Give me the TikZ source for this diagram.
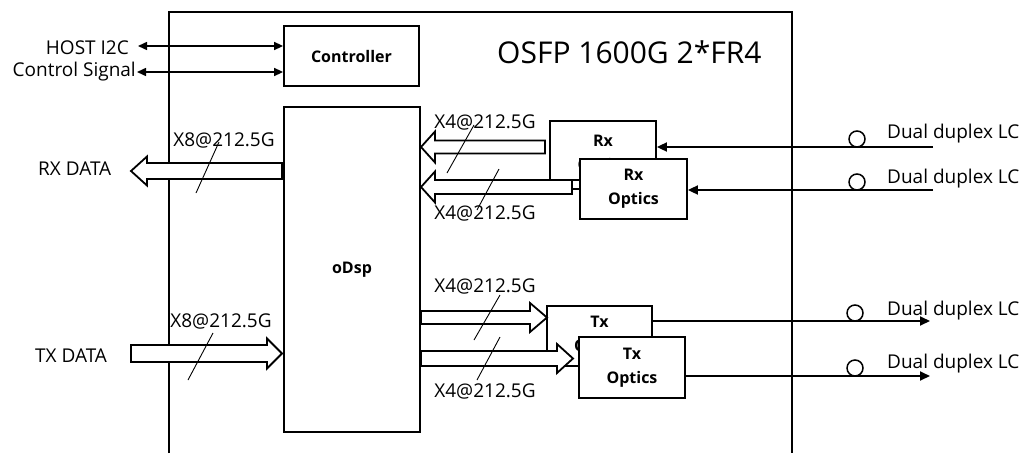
\documentclass[tikz,border=0pt]{standalone}
\usepackage{fontspec}
\setmainfont{Open Sans}
\usetikzlibrary{arrows.meta,calc}
\newcommand\hollowarrow[5]{%
  \draw[harrow] let \p1=(#1), \p2=(#2) in
    (\x1,\y1+#3) -- (\x2-#5,\y1+#3) -- (\x2-#5,\y1+#4) -- (\x2,\y1)
    -- (\x2-#5,\y1-#4) -- (\x2-#5,\y1-#3) -- (\x1,\y1-#3) -- cycle;}
\begin{document}
\begin{tikzpicture}[x=1pt,y=-1pt,
  blk/.style={draw,line width=1.8pt,fill=white,inner sep=0pt,align=center,
    font=\bfseries\fontsize{16}{24}\selectfont},
  lbl/.style={font=\fontsize{19}{22}\selectfont,inner sep=0pt,anchor=base},
  harrow/.style={draw,fill=white,line width=1.8pt,line join=miter},
  thinarr/.style={line width=1.5pt,{Triangle[length=9pt,width=8pt]}-{Triangle[length=9pt,width=8pt]}},
  fiber/.style={line width=1.8pt},
  tipL/.style={-{Triangle[length=10pt,width=9pt]}},
  slash/.style={line width=0.9pt},
  conn/.style={circle,draw,line width=1.5pt,minimum size=16pt,inner sep=0pt}]
\useasboundingbox (0,0) rectangle (1024,453);

% module outline
\draw[line width=1.5pt] (169,453) -- (169,12) -- (792,12) -- (792,453);
\node[lbl,anchor=base west,font=\fontsize{30}{36}\selectfont] (title) at (497,63) {OSFP 1600G 2*FR4};

% main blocks
\node[blk,minimum width=135pt,minimum height=60pt] (ctrl) at (351.5,56) {Controller};
\node[blk,minimum width=136pt,minimum height=325pt] (dsp) at (352,269.5) {oDsp};

% back optics boxes
\node[blk,minimum width=106pt,minimum height=68pt] (rx) at (603,155) {Rx\\Optics};
\node[blk,minimum width=105pt,minimum height=60pt] (tx) at (599.5,336) {Tx\\Optics};

% host side
\node[lbl,anchor=base east] (i2c) at (129,54) {HOST I2C};
\node[lbl,anchor=base east] (ctl) at (136,76) {Control Signal};
\coordinate (i2cL) at (138,46);
\coordinate (ctlL) at (137,72);
\draw[thinarr] (i2cL) -- (ctrl.west |- i2cL);
\draw[thinarr] (ctlL) -- (ctrl.west |- ctlL);

\node[lbl,anchor=base west] (rxd) at (38,175) {RX DATA};
\node[lbl,anchor=base west] (txd) at (35,362) {TX DATA};
\coordinate (rxdT) at (282,171);
\coordinate (rxdH) at (131,171);
\coordinate (txdT) at (131,353.5);
\coordinate (txdH) at (282,353.5);
\hollowarrow{rxdT}{rxdH}{8pt}{14.5pt}{-16pt}
\hollowarrow{txdT}{txdH}{8.5pt}{15pt}{15pt}

% line-side hollow arrows
\coordinate (rx1T) at (545,147);
\coordinate (rx1H) at (421,147);
\coordinate (rx2T) at (572,187);
\coordinate (rx2H) at (421,187);
\coordinate (tx1T) at (421,317.5);
\coordinate (tx1H) at (547,317.5);
\coordinate (tx2T) at (421,358.5);
\coordinate (tx2H) at (573,358.5);
\hollowarrow{rx1T}{rx1H}{6.5pt}{15.5pt}{-14pt}
\hollowarrow{rx2T}{rx2H}{7pt}{15.5pt}{-14pt}
\hollowarrow{tx1T}{tx1H}{6.5pt}{14.5pt}{17pt}
\hollowarrow{tx2T}{tx2H}{7.5pt}{14.5pt}{16pt}

% front optics boxes
\node[blk,minimum width=107pt,minimum height=60pt] (rxo) at (633.5,189) {Rx\\Optics};
\node[blk,minimum width=106pt,minimum height=61pt] (txo) at (632,367.5) {Tx\\Optics};
\coordinate (rxjoin) at (572,180);
\draw[fiber] (rxjoin) -- (rxjoin -| rxo.west);

% lane labels and slashes
\node[lbl] (l1) at (224,146) {X8@212.5G};
\node[lbl] (l2) at (221,327) {X8@212.5G};
\node[lbl] (l3) at (485,128) {X4@212.5G};
\node[lbl] (l4) at (485,219) {X4@212.5G};
\node[lbl] (l5) at (485,292) {X4@212.5G};
\node[lbl] (l6) at (485,397) {X4@212.5G};
\draw[slash] (219,142) -- (196,193);
\draw[slash] (213,333) -- (188,380);
\draw[slash] (474,125) -- (447,173);
\draw[slash] (499,169) -- (477,210);
\draw[slash] (500,295) -- (474,340);
\draw[slash] (500,337) -- (477,380);

% fibre side
\coordinate (f1) at (933,147);
\coordinate (f2) at (933,190);
\coordinate (f3) at (930,321);
\coordinate (f4) at (930,376);
\draw[fiber,tipL] (f1) -- (rx.east |- f1);
\draw[fiber,tipL] (f2) -- (rxo.east |- f2);
\draw[fiber,tipL] (tx.east |- f3) -- (f3);
\draw[fiber,tipL] (txo.east |- f4) -- (f4);
\node[conn] (c1) at (857,139) {};
\node[conn] (c2) at (857,182) {};
\node[conn] (c3) at (855,313) {};
\node[conn] (c4) at (855,368) {};
\node[lbl,anchor=base west] (d1) at (887,138) {Dual duplex LC};
\node[lbl,anchor=base west] (d2) at (887,183) {Dual duplex LC};
\node[lbl,anchor=base west] (d3) at (887,315) {Dual duplex LC};
\node[lbl,anchor=base west] (d4) at (887,368) {Dual duplex LC};
\end{tikzpicture}
\end{document}
